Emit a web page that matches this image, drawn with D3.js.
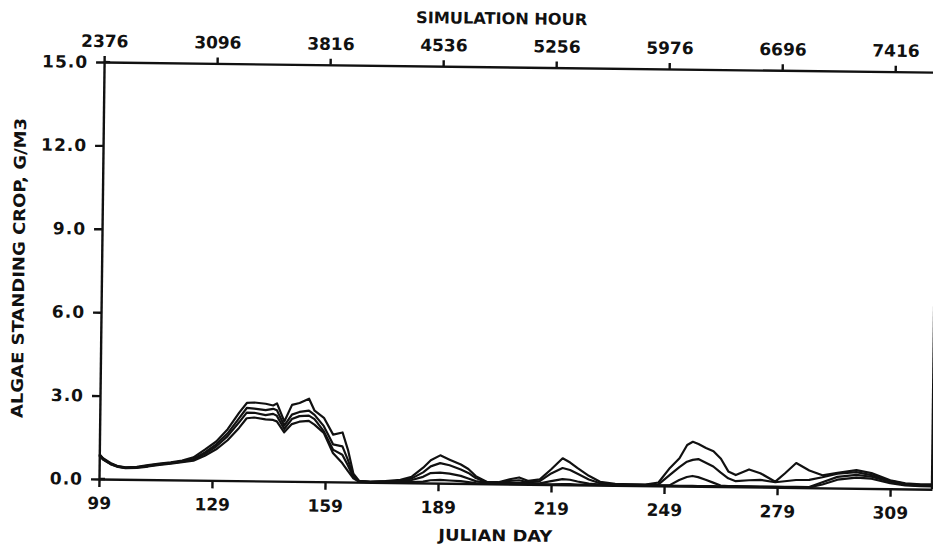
<!DOCTYPE html>
<html><head><meta charset="utf-8">
<script src="https://cdn.jsdelivr.net/npm/d3@7"></script>
<style>
body{margin:0;background:#fff}
text{font-family:"DejaVu Sans",sans-serif;font-weight:bold;fill:#111}
</style>
</head><body>
<svg id="c" width="933" height="550"></svg>
<script>
// Julian day sample points
const days = [99,100,102,104,106,109,112,115,118,121,124,127,130,133,136,138,140,143,145,146,148,150,152,154.5,156,158.5,161,163.5,165,166.5,168,171,175,179,182,185,187,189.5,192,195,197,199,202,205,208,210.5,213,216,219,222,224,226,229,232,236,240,244,247.5,250.5,253,255,256.5,258,260,262,264,266,268,271.5,274.5,278.5,281,284,287.5,291,295,300,304,309,313,317,320];
// Algae standing crop, g/m3 (four curves)
const series1 = [0.9,0.75,0.58,0.47,0.43,0.45,0.52,0.58,0.63,0.7,0.82,1.1,1.4,1.85,2.45,2.8,2.82,2.78,2.72,2.8,2.15,2.75,2.82,2.98,2.55,2.3,1.7,1.78,1.15,0.3,0.05,0.02,0.05,0.1,0.22,0.55,0.82,1.0,0.85,0.68,0.52,0.27,0.06,0.06,0.17,0.24,0.12,0.18,0.55,0.95,0.8,0.6,0.33,0.12,0.05,0.04,0.04,0.12,0.65,1.0,1.48,1.6,1.52,1.38,1.27,1.0,0.55,0.42,0.63,0.5,0.2,0.5,0.88,0.62,0.45,0.55,0.65,0.55,0.3,0.2,0.17,0.17];
const series2 = [0.88,0.73,0.56,0.46,0.42,0.44,0.5,0.56,0.61,0.67,0.76,1.0,1.3,1.7,2.25,2.62,2.6,2.55,2.6,2.55,2.0,2.4,2.5,2.55,2.4,2.0,1.35,1.28,0.8,0.22,0.04,0.02,0.04,0.07,0.16,0.38,0.6,0.72,0.65,0.5,0.38,0.2,0.05,0.05,0.11,0.14,0.07,0.12,0.4,0.6,0.53,0.4,0.2,0.07,0.03,0.03,0.03,0.05,0.4,0.68,0.88,0.95,0.98,0.85,0.72,0.5,0.3,0.2,0.24,0.26,0.18,0.22,0.27,0.28,0.38,0.52,0.58,0.48,0.28,0.18,0.15,0.15];
const series3 = [0.86,0.71,0.55,0.45,0.41,0.43,0.49,0.55,0.6,0.66,0.74,0.95,1.22,1.6,2.1,2.45,2.45,2.37,2.42,2.35,1.88,2.24,2.35,2.37,2.25,1.82,1.16,0.98,0.6,0.18,0.03,0.02,0.03,0.05,0.1,0.22,0.36,0.38,0.35,0.27,0.18,0.09,0.03,0.02,0.04,0.05,0.03,0.04,0.12,0.2,0.18,0.12,0.05,0.02,0.02,0.02,0.02,0.02,0.03,0.22,0.33,0.37,0.33,0.24,0.14,0.04,0.02,0.02,0.02,0.02,0.02,0.02,0.02,0.02,0.2,0.4,0.48,0.42,0.25,0.15,0.12,0.12];
const series4 = [0.84,0.7,0.54,0.44,0.4,0.42,0.47,0.53,0.58,0.64,0.7,0.88,1.12,1.45,1.9,2.25,2.28,2.22,2.2,2.15,1.76,2.06,2.15,2.18,2.05,1.76,1.04,0.68,0.4,0.14,0.02,0.01,0.01,0.02,0.03,0.05,0.1,0.12,0.1,0.08,0.05,0.02,0.01,0.01,0.01,0.01,0.01,0.01,0.01,0.02,0.02,0.01,0.01,0.01,0.01,0.01,0.01,0.01,0.01,0.01,0.01,0.01,0.01,0.01,0.01,0.01,0.01,0.01,0.01,0.01,0.01,0.01,0.01,0.01,0.12,0.3,0.38,0.35,0.2,0.12,0.1,0.1];
const dayTicks = [99,129,159,189,219,249,279,309];
const hourTicks = [2376,3096,3816,4536,5256,5976,6696,7416];
const yTicks = [0,3,6,9,12,15];

const svg = d3.select('#c');
svg.append('rect').attr('width',933).attr('height',550).attr('fill','#fff');
const g = svg.append('g').attr('transform','rotate(0.7,99,479)');

const x = d3.scaleLinear().domain([99,320.1]).range([99,932]);
const xh = d3.scaleLinear().domain([99*24,320.1*24]).range([99,932]);
const y = d3.scaleLinear().domain([0,15]).range([479,62]);

function styleAxis(sel){
  sel.selectAll('path,line').attr('stroke','#111').attr('stroke-width',2.4);
  sel.selectAll('text').attr('font-size',17).attr('fill','#111');
}

const axB = g.append('g').attr('transform','translate(0,479)')
  .call(d3.axisBottom(x).tickValues(dayTicks).tickSize(8).tickSizeOuter(0).tickPadding(10).tickFormat(d3.format('d')));
styleAxis(axB);
const axT = g.append('g').attr('transform','translate(0,62)')
  .call(d3.axisTop(xh).tickValues(hourTicks).tickSize(6).tickSizeOuter(0).tickPadding(9).tickFormat(d3.format('d')));
styleAxis(axT);
const axL = g.append('g').attr('transform','translate(99,0)')
  .call(d3.axisLeft(y).tickValues(yTicks).tickSize(8).tickSizeOuter(0).tickPadding(8).tickFormat(d3.format('.1f')));
styleAxis(axL);
axL.selectAll('text').attr('letter-spacing',1);
// right border
g.append('line').attr('x1',x.range()[1]).attr('x2',x.range()[1]).attr('y1',y(0)).attr('y2',y(15))
  .attr('stroke','#111').attr('stroke-width',2.4);
// crosses at corners
[0,15].forEach(v=>{
  g.append('line').attr('x1',99).attr('x2',105).attr('y1',y(v)).attr('y2',y(v)).attr('stroke','#111').attr('stroke-width',2.4);
});

const line = d3.line().x((d,i)=>x(days[i])).y(d=>y(d)).curve(d3.curveLinear);
[series1,series2,series3,series4].forEach(s=>{
  g.append('path').attr('d',line(s)).attr('fill','none').attr('stroke','#111')
    .attr('stroke-width',2.2).attr('stroke-linejoin','round');
});

g.append('text').attr('x',496).attr('y',13.4).attr('dy','0.36em').attr('text-anchor','middle')
  .attr('font-size',16).attr('textLength',171).attr('lengthAdjust','spacingAndGlyphs').text('SIMULATION HOUR');
g.append('text').attr('x',496).attr('y',530.5).attr('dy','0.36em').attr('text-anchor','middle')
  .attr('font-size',16).attr('textLength',114).attr('lengthAdjust','spacingAndGlyphs').text('JULIAN DAY');
g.append('text').attr('transform','translate(16,269) rotate(-90)').attr('dy','0.36em').attr('text-anchor','middle')
  .attr('font-size',16).attr('textLength',300).attr('lengthAdjust','spacingAndGlyphs').text('ALGAE STANDING CROP, G/M3');
</script>
</body></html>
